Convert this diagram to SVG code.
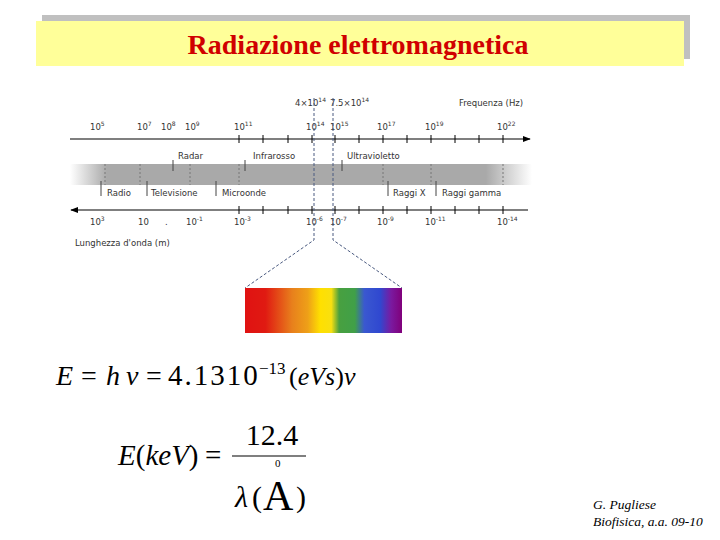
<svg xmlns="http://www.w3.org/2000/svg" width="720" height="540" viewBox="0 0 720 540">
<defs>
<linearGradient id="band" x1="70" y1="0" x2="532" y2="0" gradientUnits="userSpaceOnUse">
<stop offset="0" stop-color="#ffffff"/>
<stop offset="0.08" stop-color="#a9a9a9"/>
<stop offset="0.9" stop-color="#a9a9a9"/>
<stop offset="1" stop-color="#ffffff"/>
</linearGradient>
<linearGradient id="spec" x1="245" y1="0" x2="402" y2="0" gradientUnits="userSpaceOnUse">
<stop offset="0" stop-color="#e01212"/>
<stop offset="0.13" stop-color="#e01a12"/>
<stop offset="0.3" stop-color="#e8801c"/>
<stop offset="0.4" stop-color="#eea018"/>
<stop offset="0.48" stop-color="#ffe000"/>
<stop offset="0.55" stop-color="#f8e010"/>
<stop offset="0.6" stop-color="#48a040"/>
<stop offset="0.7" stop-color="#40a048"/>
<stop offset="0.76" stop-color="#3a58d0"/>
<stop offset="0.86" stop-color="#3048d0"/>
<stop offset="0.93" stop-color="#7a1aa0"/>
<stop offset="1" stop-color="#80007a"/>
</linearGradient>
<marker id="arr" viewBox="0 0 10 10" refX="9" refY="5" markerWidth="8" markerHeight="8" orient="auto-start-reverse" markerUnits="userSpaceOnUse">
<path d="M0,1 L10,5 L0,9 Z" fill="#000"/>
</marker>
</defs>
<style>
.sm{font-family:"DejaVu Sans","Liberation Sans",sans-serif;font-size:8.5px;fill:#333}
.sup{font-size:6px}
.axis{stroke:#000;stroke-width:1.2;fill:none}
.tick{stroke:#000;stroke-width:1}
.dash{stroke:#4a5a80;stroke-width:1;stroke-dasharray:3,2;fill:none}
.dot{stroke:#777;stroke-width:1;stroke-dasharray:2,2}
.lab{stroke:#444;stroke-width:1}
.math{font-family:"Liberation Serif","Times New Roman",serif;fill:#000}
.it{font-style:italic}
</style>

<g id="title">
<rect x="42" y="15" width="648" height="44" fill="#c0c0c0"/>
<rect x="36" y="21" width="648" height="45" fill="#ffff99"/>
<text x="358" y="54" text-anchor="middle" font-family="Liberation Serif,'Times New Roman',serif" font-weight="bold" font-size="28" fill="#d00000">Radiazione elettromagnetica</text>
</g>

<g id="band-node">
<rect x="70" y="164" width="462" height="21" fill="url(#band)"/>
<g class="dot">
<line x1="105" y1="164" x2="105" y2="185"/>
<line x1="140" y1="164" x2="140" y2="185"/>
<line x1="190" y1="164" x2="190" y2="185"/>
<line x1="239" y1="164" x2="239" y2="185"/>
<line x1="383" y1="164" x2="383" y2="185"/>
<line x1="431" y1="164" x2="431" y2="185"/>
<line x1="503" y1="164" x2="503" y2="185"/>
</g>
</g>

<g id="frequency-axis">
<line class="axis" x1="70" y1="139" x2="530" y2="139" marker-end="url(#arr)"/>
<g class="tick">
<line x1="239" y1="135" x2="239" y2="143"/><line x1="263" y1="135" x2="263" y2="143"/><line x1="288" y1="135" x2="288" y2="143"/><line x1="312" y1="135" x2="312" y2="143"/><line x1="335" y1="135" x2="335" y2="143"/><line x1="359" y1="135" x2="359" y2="143"/><line x1="383" y1="135" x2="383" y2="143"/><line x1="407" y1="135" x2="407" y2="143"/><line x1="431" y1="135" x2="431" y2="143"/><line x1="455" y1="135" x2="455" y2="143"/><line x1="479" y1="135" x2="479" y2="143"/><line x1="503" y1="135" x2="503" y2="143"/>
</g>
<g class="sm">
<text x="90" y="130">10<tspan class="sup" dy="-4">5</tspan></text>
<text x="137" y="130">10<tspan class="sup" dy="-4">7</tspan></text>
<text x="161" y="130">10<tspan class="sup" dy="-4">8</tspan></text>
<text x="185" y="130">10<tspan class="sup" dy="-4">9</tspan></text>
<text x="234" y="130">10<tspan class="sup" dy="-4">11</tspan></text>
<text x="306" y="130">10<tspan class="sup" dy="-4">14</tspan></text>
<text x="330" y="130">10<tspan class="sup" dy="-4">15</tspan></text>
<text x="377" y="130">10<tspan class="sup" dy="-4">17</tspan></text>
<text x="425" y="130">10<tspan class="sup" dy="-4">19</tspan></text>
<text x="497" y="130">10<tspan class="sup" dy="-4">22</tspan></text>
<text x="295" y="106">4×10<tspan class="sup" dy="-4">14</tspan></text>
<text x="330" y="106">7.5×10<tspan class="sup" dy="-4">14</tspan></text>
<text x="459" y="106">Frequenza (Hz)</text>
</g>
</g>

<g id="upper-labels">
<line class="lab" x1="173" y1="160" x2="173" y2="171"/>
<line class="lab" x1="245" y1="160" x2="245" y2="171"/>
<line class="lab" x1="342" y1="160" x2="342" y2="171"/>
<text class="sm" x="178" y="159">Radar</text>
<text class="sm" x="253" y="159">Infrarosso</text>
<text class="sm" x="347" y="159">Ultravioletto</text>
</g>

<g id="lower-labels">
<line class="lab" x1="101" y1="181" x2="101" y2="196"/>
<line class="lab" x1="147" y1="181" x2="147" y2="196"/>
<line class="lab" x1="216" y1="181" x2="216" y2="196"/>
<line class="lab" x1="388" y1="181" x2="388" y2="196"/>
<line class="lab" x1="436" y1="181" x2="436" y2="196"/>
<text class="sm" x="107" y="196">Radio</text>
<text class="sm" x="151" y="196">Televisione</text>
<text class="sm" x="222" y="196">Microonde</text>
<text class="sm" x="393" y="196">Raggi X</text>
<text class="sm" x="442" y="196">Raggi gamma</text>
</g>

<g id="wavelength-axis">
<line class="axis" x1="528" y1="210" x2="71" y2="210" marker-end="url(#arr)"/>
<g class="tick">
<line x1="239" y1="206" x2="239" y2="214"/><line x1="263" y1="206" x2="263" y2="214"/><line x1="288" y1="206" x2="288" y2="214"/><line x1="312" y1="206" x2="312" y2="214"/><line x1="335" y1="206" x2="335" y2="214"/><line x1="359" y1="206" x2="359" y2="214"/><line x1="383" y1="206" x2="383" y2="214"/><line x1="407" y1="206" x2="407" y2="214"/><line x1="431" y1="206" x2="431" y2="214"/><line x1="455" y1="206" x2="455" y2="214"/><line x1="479" y1="206" x2="479" y2="214"/><line x1="503" y1="206" x2="503" y2="214"/>
</g>
<g class="sm">
<text x="90" y="225">10<tspan class="sup" dy="-4">3</tspan></text>
<text x="138" y="225">10</text>
<text x="165" y="225">.</text>
<text x="186" y="225">10<tspan class="sup" dy="-4">-1</tspan></text>
<text x="234" y="225">10<tspan class="sup" dy="-4">-3</tspan></text>
<text x="306" y="225">10<tspan class="sup" dy="-4">-6</tspan></text>
<text x="330" y="225">10<tspan class="sup" dy="-4">-7</tspan></text>
<text x="377" y="225">10<tspan class="sup" dy="-4">-9</tspan></text>
<text x="425" y="225">10<tspan class="sup" dy="-4">-11</tspan></text>
<text x="497" y="225">10<tspan class="sup" dy="-4">-14</tspan></text>
<text x="75" y="246">Lunghezza d'onda (m)</text>
</g>
</g>

<g id="connectors">
<polyline class="dash" points="314,98 314,240 245,288"/>
<polyline class="dash" points="333,98 333,240 402,288"/>
</g>

<g id="visible-spectrum">
<rect x="245" y="288" width="157" height="45" fill="url(#spec)"/>
</g>

<g id="formula1" class="math">
<text y="385" font-size="28"><tspan class="it" x="56">E</tspan><tspan x="81">=</tspan><tspan class="it" x="106">h</tspan><tspan class="it" x="126">ν</tspan><tspan x="146">=</tspan><tspan x="168" font-size="29" letter-spacing="2">4.1310</tspan><tspan x="259" font-size="17" dy="-11">−13</tspan><tspan x="289" dy="11" font-size="26">(</tspan><tspan class="it" font-size="26">eVs</tspan><tspan font-size="26">)</tspan><tspan class="it" font-size="26">ν</tspan></text>
</g>

<g id="formula2" class="math">
<text y="465" font-size="29"><tspan class="it" x="118">E</tspan>(<tspan class="it">keV</tspan>)<tspan x="205">=</tspan></text>
<text x="272" y="445" font-size="30" text-anchor="middle">12.4</text>
<line x1="232" y1="456" x2="306" y2="456" stroke="#000" stroke-width="1.2"/>
<text y="507" font-size="30"><tspan class="it" x="235">λ</tspan><tspan x="252">(</tspan><tspan x="263" y="510" font-size="42">A</tspan><tspan x="296" y="507">)</tspan></text>
<text x="275" y="467" font-size="11">0</text>
</g>

<g id="footer" class="math it" font-size="13.5">
<text x="593" y="509">G. Pugliese</text>
<text x="593" y="526">Biofisica, a.a. 09-10</text>
</g>
</svg>
